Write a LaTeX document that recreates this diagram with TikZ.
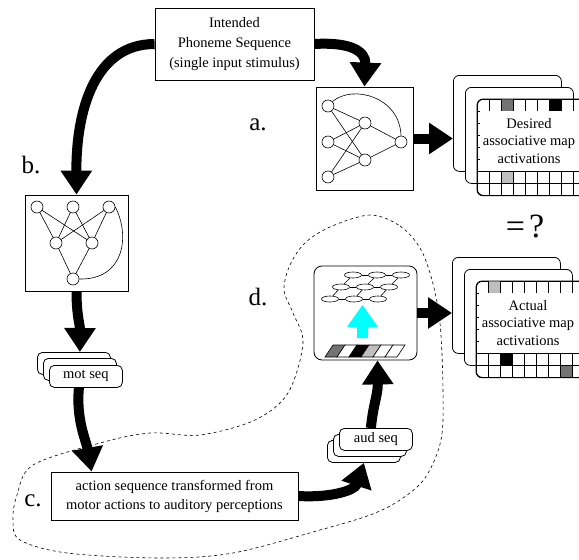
\documentclass[tikz,border=0pt]{standalone}
\usepackage{fontspec}
\setmainfont{Liberation Serif}
\usetikzlibrary{arrows.meta,shapes.geometric}
\definecolor{aqua}{RGB}{0,255,255}

\begin{document}
\begin{tikzpicture}[x=1pt, y=-1pt,
        txt/.style={font=\fontsize{14.5}{17.5}\selectfont, align=center},
        plainbox/.style={draw, line width=0.8pt, fill=white, inner sep=0pt},
        card/.style={plainbox, rounded corners=6pt, minimum width=108pt, minimum height=96pt, anchor=north west},
        seqcard/.style={plainbox, txt, rounded corners=5pt, minimum width=73pt, minimum height=22pt, anchor=north west},
        neuron/.style={circle, draw, line width=0.6pt, fill=white, minimum size=12pt, inner sep=0pt},
        somcell/.style={ellipse, draw, line width=0.6pt, fill=white, minimum width=17pt, minimum height=6pt, inner sep=0pt},
        bigarrow/.style={line width=10pt, -{Triangle[length=24pt, width=30pt]}},
        letter/.style={font=\fontsize{25}{25}\selectfont}]
    \useasboundingbox (0,0) rectangle (579,560);

    % forward model region
    \draw[dashed, line width=0.6pt] plot[smooth cycle, tension=0.55] coordinates {
        (370,215) (400,226) (420,248) (432,280) (440,323) (443,390) (441,440)
        (425,478) (400,500) (370,515) (320,530) (233,553) (160,558) (67,553)
        (20,540) (13,520) (17,495) (33,465) (100,443) (150,433) (200,435)
        (255,420) (288,393) (303,343) (293,313) (284,290) (290,265) (305,243) (330,227)};

    % input stimulus
    \node[plainbox, txt, font=\fontsize{14.5}{20}\selectfont, minimum width=159pt, minimum height=72pt] (phon) at (234.5,44)
        {Intended\\Phoneme Sequence\\(single input stimulus)};

    % a. perception network
    \node[plainbox, minimum width=97pt, minimum height=103pt] (anet) at (364.5,138.5) {};
    \node[neuron] (a1) at (328,106) {};
    \node[neuron] (a2) at (328,142) {};
    \node[neuron] (a3) at (328,177) {};
    \node[neuron] (a4) at (365,123) {};
    \node[neuron] (a5) at (365,160) {};
    \node[neuron] (a6) at (401,142) {};
    \foreach \i in {a1,a2,a3}
        \foreach \j in {a4,a5}
            \draw[line width=0.6pt] (\i) -- (\j);
    \draw[line width=0.6pt] (a4) -- (a6) (a5) -- (a6);
    \draw[line width=0.6pt] (a1.45) .. controls (353,84) and (400,97) .. (a6.north);

    % b. production network
    \node[plainbox, minimum width=103pt, minimum height=96pt] (bnet) at (76.5,243) {};
    \node[neuron] (b1) at (37,207) {};
    \node[neuron] (b2) at (73,207) {};
    \node[neuron] (b3) at (109,207) {};
    \node[neuron] (b4) at (56,243) {};
    \node[neuron] (b5) at (92,243) {};
    \node[neuron] (b6) at (73,279) {};
    \foreach \i in {b1,b2,b3}
        \foreach \j in {b4,b5}
            \draw[line width=0.6pt] (\i) -- (\j);
    \draw[line width=0.6pt] (b4) -- (b6) (b5) -- (b6);
    \draw[line width=0.6pt] (b3.east) .. controls (130,235) and (125,280) .. (b6.east);

    % sequences
    \node[seqcard] (mot1) at (37,352) {};
    \node[seqcard] (mot2) at (43,358) {};
    \node[seqcard] (mot3) at (49,365) {mot seq};
    \node[seqcard] (aud1) at (327,440) {};
    \node[seqcard] (aud2) at (333,434) {};
    \node[seqcard] (aud3) at (339,428) {aud seq};

    % c. transformation
    \node[plainbox, txt, font=\fontsize{14.5}{19}\selectfont, minimum width=247pt, minimum height=48pt] (cbox) at (174.5,496)
        {action sequence transformed from\\motor actions to auditory perceptions};

    % d. auditory map
    \node[plainbox, rounded corners=8pt, minimum width=103pt, minimum height=94pt] (dbox) at (365.5,313) {};
    \foreach \x [count=\i] in {353,377,401}
        \node[somcell] (r1\i) at (\x,275) {};
    \foreach \x [count=\i] in {341,365,389}
        \node[somcell] (r2\i) at (\x,287) {};
    \foreach \x [count=\i] in {330,354,378}
        \node[somcell] (r3\i) at (\x,299) {};
    \foreach \r in {1,2,3}
        \draw[line width=0.6pt] (r\r1) -- (r\r2) (r\r2) -- (r\r3);
    \foreach \i in {1,2,3}
        \draw[line width=0.6pt] (r3\i) -- (r2\i) (r2\i) -- (r1\i);
    \fill[aqua] (362.5,305) -- (378,327) -- (368,327) -- (368,338) -- (357,338) -- (357,327) -- (347,327) -- cycle;
    \foreach \c [count=\k from 0] in {black!55, white, black, black!25, white, white}
        \filldraw[fill=\c, line width=0.6pt] (325+12*\k,357) -- ++(12,0) -- ++(8,-12) -- ++(-12,0) -- cycle;

    % desired activations
    \node[card] (des1) at (453,75) {};
    \node[card] (des2) at (465,87) {};
    \node[card] (des3) at (477,99) {};
    \begin{scope}
        \clip[rounded corners=6pt] (477,99) rectangle (585,195);
        \fill[black!55] (501,99) rectangle ++(12,12);
        \fill[black] (549,99) rectangle ++(12,12);
        \fill[black!25] (501,171) rectangle ++(12,12);
        \foreach \k in {1,...,8} {
            \draw[line width=0.6pt] (477+12*\k,99) -- ++(0,96);
            \draw[line width=0.6pt] (477,99+12*\k) -- ++(108,0);
        }
        \fill[white] (480,111) rectangle (585,171);
    \end{scope}
    \draw[line width=0.8pt, rounded corners=6pt] (des3.north west) rectangle (des3.south east);
    \node[txt] (destext) at (529,141) {Desired\\associative map\\activations};

    % actual activations
    \node[card] (act1) at (452,257) {};
    \node[card] (act2) at (464,269) {};
    \node[card] (act3) at (476,281) {};
    \begin{scope}
        \clip[rounded corners=6pt] (476,281) rectangle (584,377);
        \fill[black!25] (488,281) rectangle ++(12,12);
        \fill[black] (500,353) rectangle ++(12,12);
        \fill[black!55] (560,365) rectangle ++(12,12);
        \foreach \k in {1,...,8} {
            \draw[line width=0.6pt] (476+12*\k,281) -- ++(0,96);
            \draw[line width=0.6pt] (476,281+12*\k) -- ++(108,0);
        }
        \fill[white] (479,293) rectangle (584,353);
    \end{scope}
    \draw[line width=0.8pt, rounded corners=6pt] (act3.north west) rectangle (act3.south east);
    \node[txt] (acttext) at (528,323) {Actual\\associative map\\activations};

    % labels
    \node[letter] (la) at (258,125) {a.};
    \node[letter] (lb) at (31,165) {b.};
    \node[letter] (lc) at (33,501) {c.};
    \node[letter] (ld) at (258,297) {d.};
    \node[font=\fontsize{34}{34}\selectfont] (same) at (525,226) {=\hspace{4pt}?};

    % flow
    \draw[bigarrow] (phon.west) .. controls (95,44) and (76,110) .. (bnet.north);
    \draw[bigarrow] (phon.east) .. controls (348,42) and (366,50) .. (anet.north);
    \draw[bigarrow] (anet.east) -- (anet.east -| des1.west);
    \draw[bigarrow] (bnet.south) .. controls (76.5,315) and (80,325) .. ([xshift=6pt]mot1.north);
    \draw[bigarrow] ([xshift=-7pt]mot3.south) .. controls (76,420) and (86,440) .. ([xshift=41pt]cbox.north west);
    \draw[bigarrow] (cbox.east) .. controls (332,498) and (355,490) .. (aud1.south);
    \draw[bigarrow] ([xshift=-5pt]aud3.north) .. controls (373,405) and (378,395) .. ([xshift=12pt]dbox.south);
    \draw[bigarrow] (dbox.east) -- (dbox.east -| act1.west);
\end{tikzpicture}
\end{document}
